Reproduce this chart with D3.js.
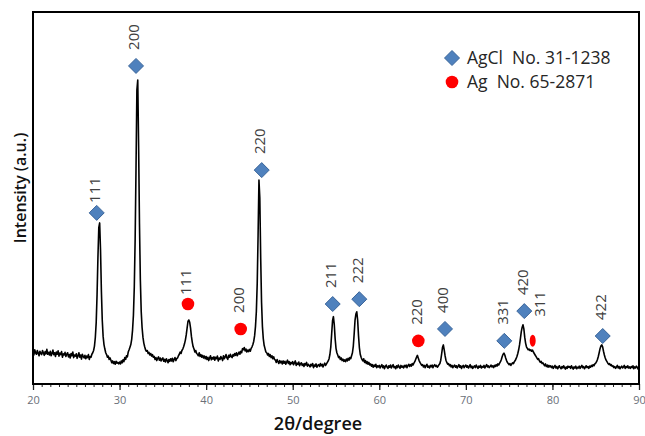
<!DOCTYPE html>
<html>
<head>
<meta charset="utf-8">
<script src="https://cdn.jsdelivr.net/npm/d3@7"></script>
<style>
  body { margin: 0; background: #fff; }
  svg { display: block; font-family: "Open Sans", sans-serif; }
</style>
</head>
<body>
<div id="chart"></div>
<script>
// --- DATA ---
// XRD scan, 2θ from 20° to 90° sampled every 0.1° (one row per degree)
const scanStart = 20;
const scanStep = 0.1;
const intensity = [
  86, 78, 92, 84, 80, 90, 83, 76, 88, 82,
  79, 90, 84, 77, 87, 81, 93, 80, 85, 78,
  88, 76, 82, 91, 79, 84, 74, 86, 80, 89,
  75, 83, 79, 87, 72, 81, 78, 85, 74, 80,
  84, 73, 79, 70, 82, 76, 86, 71, 78, 75,
  81, 69, 76, 84, 72, 78, 67, 80, 74, 70,
  77, 68, 75, 71, 79, 66, 74, 72, 80, 84,
  90, 102, 125, 165, 240, 340, 420, 433, 360, 250,
  172, 128, 106, 94, 84, 79, 72, 75, 66, 70,
  64, 57, 62, 55, 60, 53, 61, 56, 58, 54,
  59, 54, 62, 57, 65, 60, 71, 66, 76, 73,
  86, 92, 99, 106, 120, 145, 185, 260, 390, 580,
  790, 817, 640, 430, 280, 195, 152, 126, 110, 100,
  92, 88, 90, 82, 85, 78, 82, 75, 79, 72,
  74, 66, 71, 63, 69, 73, 64, 70, 62, 67,
  70, 61, 66, 59, 68, 63, 57, 66, 61, 68,
  62, 69, 60, 66, 71, 63, 68, 70, 76, 80,
  86, 82, 90, 94, 100, 108, 118, 132, 150, 168,
  172, 166, 150, 128, 112, 100, 94, 86, 90, 82,
  80, 76, 84, 74, 79, 72, 77, 70, 75, 68,
  74, 66, 72, 63, 70, 76, 65, 71, 67, 73,
  64, 72, 68, 75, 62, 70, 66, 74, 69, 63,
  76, 68, 73, 79, 70, 66, 77, 72, 80, 74,
  71, 79, 75, 82, 77, 84, 76, 81, 86, 80,
  88, 84, 95, 92, 98, 89, 94, 86, 91, 87,
  93, 88, 96, 100, 106, 115, 130, 155, 195, 270,
  400, 548, 500, 340, 220, 155, 122, 104, 95, 86,
  84, 78, 82, 74, 79, 71, 76, 68, 73, 66,
  64, 58, 66, 60, 55, 63, 57, 61, 54, 62,
  56, 61, 53, 59, 64, 55, 60, 52, 58, 55,
  60, 52, 57, 62, 50, 56, 53, 59, 49, 55,
  57, 50, 54, 47, 55, 51, 58, 48, 53, 50,
  46, 53, 49, 55, 44, 51, 48, 54, 45, 50,
  52, 47, 55, 49, 53, 46, 51, 56, 50, 54,
  58, 62, 68, 80, 100, 135, 170, 181, 160, 122,
  96, 84, 78, 71, 74, 66, 70, 63, 67, 61,
  65, 60, 67, 62, 69, 64, 71, 68, 76, 84,
  102, 135, 172, 188, 194, 172, 130, 98, 80, 72,
  66, 62, 68, 58, 63, 55, 60, 53, 58, 51,
  54, 48, 52, 45, 51, 47, 53, 44, 49, 46,
  50, 43, 48, 52, 44, 49, 41, 47, 51, 45,
  42, 49, 45, 51, 43, 48, 52, 44, 47, 41,
  49, 44, 51, 46, 42, 50, 45, 48, 43, 50,
  46, 51, 44, 49, 53, 47, 52, 48, 55, 51,
  56, 60, 66, 72, 77, 70, 63, 58, 54, 50,
  52, 46, 50, 44, 49, 53, 45, 48, 43, 50,
  46, 51, 44, 49, 52, 47, 50, 45, 48, 52,
  55, 64, 80, 98, 105, 92, 76, 64, 58, 53,
  55, 49, 52, 46, 50, 44, 48, 51, 45, 49,
  43, 48, 52, 45, 49, 42, 47, 50, 44, 48,
  51, 45, 49, 43, 47, 52, 44, 48, 42, 46,
  49, 44, 51, 46, 42, 48, 45, 50, 43, 47,
  45, 50, 43, 48, 52, 46, 49, 44, 47, 51,
  46, 49, 44, 50, 47, 52, 48, 54, 51, 56,
  60, 66, 74, 80, 83, 78, 70, 63, 58, 55,
  52, 55, 50, 54, 57, 55, 60, 63, 68, 74,
  82, 92, 105, 122, 140, 152, 159, 148, 126, 110,
  100, 96, 92, 94, 90, 92, 88, 91, 86, 82,
  78, 74, 70, 66, 68, 62, 58, 61, 55, 57,
  53, 49, 54, 47, 51, 45, 50, 46, 49, 44,
  48, 42, 46, 50, 43, 47, 41, 45, 49, 44,
  41, 47, 43, 49, 44, 40, 46, 42, 48, 45,
  47, 42, 49, 44, 40, 46, 43, 48, 41, 45,
  43, 48, 42, 46, 50, 44, 47, 41, 45, 49,
  44, 47, 42, 48, 45, 50, 47, 52, 49, 54,
  56, 60, 66, 74, 84, 95, 102, 105, 100, 88,
  78, 70, 64, 60, 56, 53, 55, 50, 52, 47,
  49, 44, 47, 42, 46, 50, 43, 47, 41, 45,
  48, 43, 46, 50, 42, 47, 44, 49, 43, 46,
  42, 47, 44, 49, 41, 46, 43, 48, 45, 40,
  44
];

// reflection markers (AgCl card 31-1238, Ag card 65-2871)
const agclHkl = ["111", "200", "220", "211", "222", "400", "331", "420", "422"];
const agclAngle = [27.36, 31.90, 46.42, 54.62, 57.69, 67.59, 74.44, 76.75, 85.81];
const agclLevel = [460, 855, 575, 215, 228, 148, 116, 196, 129];

const agHkl = ["111", "200", "220", "311"];
const agAngle = [37.90, 43.99, 64.51, 77.72];
const agLevel = [215, 148, 116, 116];

const xTicks = [20, 30, 40, 50, 60, 70, 80, 90];
const legendLabels = ["AgCl  No. 31-1238", "Ag  No. 65-2871"];

const scan = intensity.map((v, i) => ({ angle: scanStart + i * scanStep, value: v }));

// --- CHART SETUP ---
const width = 645, height = 436;
const margin = { top: 12, right: 6, bottom: 52, left: 33 };

const svg = d3.select("#chart").append("svg")
    .attr("width", width)
    .attr("height", height);

const x = d3.scaleLinear().domain([20, 90]).range([margin.left, width - margin.right]);
const y = d3.scaleLinear().domain([0, 1000]).range([height - margin.bottom, margin.top]);

// minor ticks every degree, major every 10
svg.append("g")
    .attr("transform", `translate(0,${y(0)})`)
    .call(d3.axisBottom(x).tickValues(d3.range(20, 91, 1)).tickSize(3).tickFormat(""))
    .call(g => g.select(".domain").remove())
    .call(g => g.selectAll("line").attr("stroke", "#222"));

svg.append("g")
    .attr("transform", `translate(0,${y(0)})`)
    .call(d3.axisBottom(x).tickValues(xTicks).tickSize(6).tickPadding(6))
    .call(g => g.select(".domain").remove())
    .call(g => g.selectAll("line").attr("stroke", "#222").attr("stroke-width", 1.3))
    .call(g => g.selectAll("text")
        .attr("fill", "#6a6f78")
        .style("font-size", "11px")
        .style("font-family", "'Open Sans', sans-serif"));

// the scan itself
const line = d3.line().x(d => x(d.angle)).y(d => y(d.value));
svg.append("path")
    .datum(scan)
    .attr("fill", "none")
    .attr("stroke", "#000")
    .attr("stroke-width", 1.6)
    .attr("stroke-linejoin", "round")
    .attr("d", line);

// plot frame
svg.append("rect")
    .attr("x", x(20))
    .attr("y", y(1000))
    .attr("width", x(90) - x(20))
    .attr("height", y(0) - y(1000))
    .attr("fill", "none")
    .attr("stroke", "#000")
    .attr("stroke-width", 2);

// --- MARKERS ---
const diamond = (cx, cy) => `M${cx},${cy - 7.5}L${cx + 7.5},${cy}L${cx},${cy + 7.5}L${cx - 7.5},${cy}Z`;

const agclData = agclHkl.map((h, i) => ({ hkl: h, angle: agclAngle[i], level: agclLevel[i] }));
const agData = agHkl.map((h, i) => ({ hkl: h, angle: agAngle[i], level: agLevel[i] }));

svg.append("g").selectAll("path")
    .data(agclData)
    .join("path")
    .attr("d", d => diamond(x(d.angle), y(d.level)))
    .attr("fill", "#4f81bd")
    .attr("stroke", "#3a659a")
    .attr("stroke-width", 1);

svg.append("g").selectAll("ellipse")
    .data(agData)
    .join("ellipse")
    .attr("cx", d => x(d.angle))
    .attr("cy", d => y(d.level))
    .attr("rx", d => d.hkl === "311" ? 3 : 6.3)
    .attr("ry", d => d.hkl === "311" ? 6 : 6.3)
    .attr("fill", "#ff0000");

// rotated hkl labels above each marker
const labelGap = { "AgCl111": 10, "Ag111": 9 };
const labelShift = { "Ag311": [9, -8] };

function addLabels(data, key) {
    svg.append("g").selectAll("text")
        .data(data)
        .join("text")
        .attr("transform", d => {
            const shift = labelShift[key + d.hkl] || [0, 0];
            const gap = labelGap[key + d.hkl] || 16;
            return `translate(${x(d.angle) - 2 + shift[0]},${y(d.level) - gap + shift[1]}) rotate(-90)`;
        })
        .attr("dy", "0.36em")
        .attr("fill", "#404040")
        .style("font-size", "15px")
        .text(d => d.hkl);
}
addLabels(agclData, "AgCl");
addLabels(agData, "Ag");

// --- LEGEND ---
const legend = svg.append("g").attr("transform", "translate(452,58)");
legend.append("path").attr("d", diamond(0, 0)).attr("fill", "#4f81bd").attr("stroke", "#3a659a");
legend.append("circle").attr("cx", 0).attr("cy", 24).attr("r", 6.3).attr("fill", "#ff0000");
legend.selectAll("text")
    .data(legendLabels)
    .join("text")
    .attr("x", 15)
    .attr("y", (d, i) => i * 24)
    .attr("dy", "0.36em")
    .attr("fill", "#262626")
    .style("font-size", "17.5px")
    .style("white-space", "pre")
    .text(d => d);

// --- AXIS TITLES ---
svg.append("text")
    .attr("x", 318)
    .attr("y", 430)
    .attr("text-anchor", "middle")
    .attr("fill", "#111")
    .style("font-size", "18px")
    .style("font-weight", 600)
    .text("2θ/degree");

svg.append("text")
    .attr("transform", "translate(20,188) rotate(-90)")
    .attr("dy", "0.36em")
    .attr("text-anchor", "middle")
    .attr("fill", "#111")
    .style("font-size", "16px")
    .style("font-weight", 600)
    .text("Intensity (a.u.)");
</script>
</body>
</html>
